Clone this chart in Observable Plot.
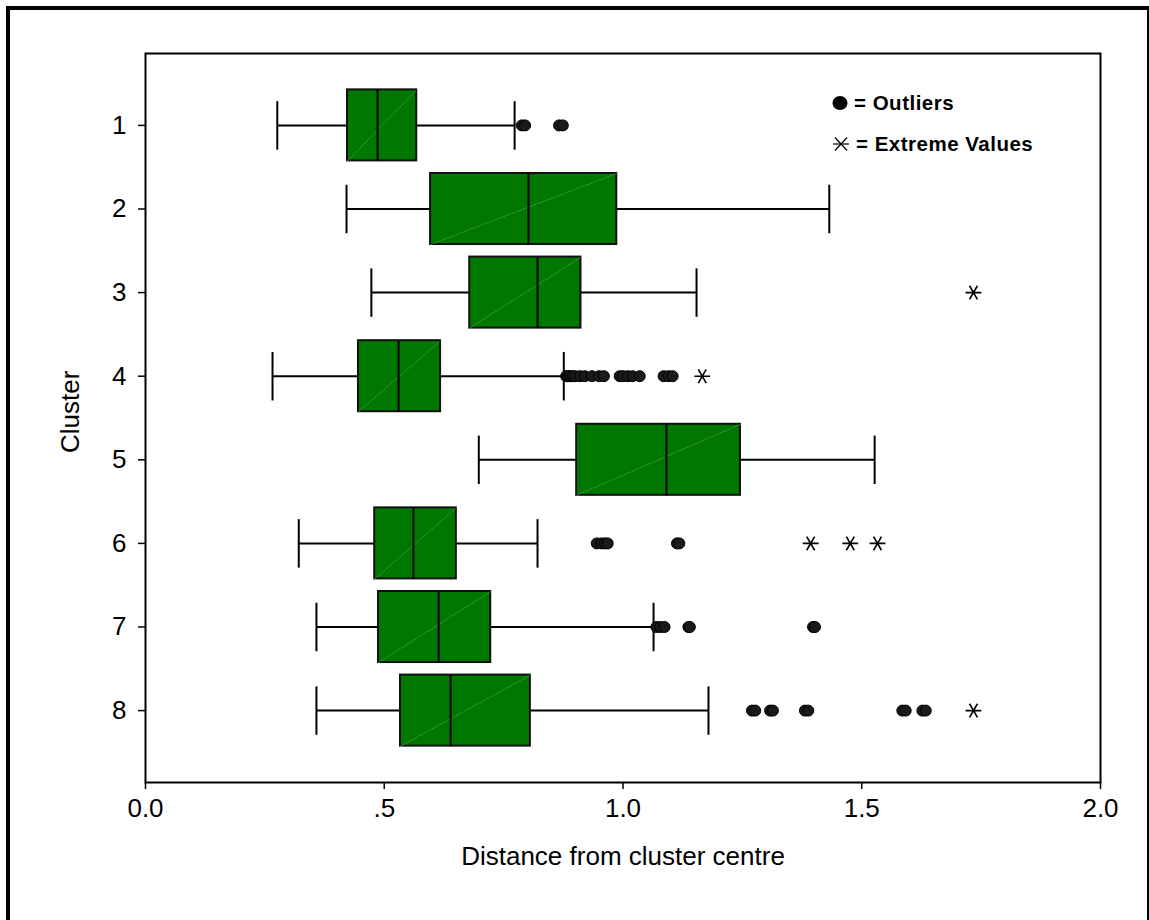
<!DOCTYPE html>
<html>
<head>
<meta charset="utf-8">
<script src="https://cdn.jsdelivr.net/npm/d3@7"></script>
<script src="https://cdn.jsdelivr.net/npm/@observablehq/plot@0.6"></script>
<style>
  html, body { margin: 0; padding: 0; background: #fff; }
  #wrap { position: relative; width: 1149px; height: 920px; overflow: hidden; font-family: "Liberation Sans", Arial, sans-serif; }
  #outer { position: absolute; left: 6px; top: 6px; width: 1137px; height: 960px; border-left: 4px solid #000; border-top: 4px solid #000; border-right: 2px solid #000; box-sizing: content-box; pointer-events: none; }
  #legend { position: absolute; left: 832px; top: 91px; font-weight: bold; font-size: 20.5px; color: #000; letter-spacing: 0.5px; }
  #legend .row { position: absolute; left: 0; white-space: nowrap; display: flex; align-items: center; }
  #legend svg { display: block; margin-right: 6px; }
</style>
</head>
<body>
<div id="wrap">
  <div id="chart"></div>
  <div id="outer"></div>
  <div id="legend"></div>
</div>
<script>
// ---- data ----
const clusters    = [1, 2, 3, 4, 5, 6, 7, 8];
const whiskerLow  = [0.276, 0.421, 0.473, 0.266, 0.698, 0.321, 0.358, 0.358];
const q1          = [0.423, 0.597, 0.679, 0.446, 0.903, 0.480, 0.488, 0.534];
const median      = [0.486, 0.802, 0.821, 0.530, 1.091, 0.561, 0.614, 0.639];
const q3          = [0.568, 0.987, 0.912, 0.618, 1.246, 0.651, 0.723, 0.806];
const whiskerHigh = [0.773, 1.432, 1.154, 0.876, 1.527, 0.821, 1.064, 1.179];

const outlierValues = [
  [0.788, 0.795, 0.866, 0.874],
  [],
  [],
  [0.881, 0.884, 0.887, 0.890, 0.895, 0.900, 0.910, 0.920, 0.935, 0.950, 0.960,
   0.993, 1.000, 1.010, 1.020, 1.035, 1.085, 1.095, 1.104],
  [],
  [0.945, 0.955, 0.962, 0.968, 1.113, 1.118],
  [1.070, 1.078, 1.087, 1.137, 1.140, 1.398, 1.402],
  [1.270, 1.277, 1.308, 1.314, 1.381, 1.388, 1.585, 1.592, 1.627, 1.634]
];
const extremeValues = [
  [], [], [1.734], [1.166], [], [1.393, 1.476, 1.533], [], [1.734]
];

const xTicks = [0, 0.5, 1, 1.5, 2];
const xTickLabels = ["0.0", ".5", "1.0", "1.5", "2.0"];
const xLabel = "Distance from cluster centre";
const yLabel = "Cluster";
const legendItems = ["= Outliers", "= Extreme Values"];

// ---- build tables ----
const boxes = clusters.map((c, i) => ({
  cluster: c, lo: whiskerLow[i], q1: q1[i], med: median[i], q3: q3[i], hi: whiskerHigh[i]
}));
const outliers = clusters.flatMap((c, i) => outlierValues[i].map(v => ({cluster: c, value: v})));
const extremes = clusters.flatMap((c, i) => extremeValues[i].map(v => ({cluster: c, value: v})));

const BOX = 0.425;   // half box height (in band units)
const CAP = 0.29;    // half whisker cap height
const GREEN = "#007800";

const chart = Plot.plot({
  width: 1149,
  height: 920,
  marginLeft: 145,
  marginRight: 49,
  marginTop: 53,
  marginBottom: 138,
  style: { fontFamily: "'Liberation Sans', Arial, sans-serif", fontSize: "26px", background: "transparent", color: "#000" },
  x: { domain: [0, 2] },
  y: { domain: [0.14, 8.86], reverse: true },
  marks: [
    // whisker lines
    Plot.link(boxes, { x1: "lo", x2: "q1", y1: "cluster", y2: "cluster", stroke: "#000", strokeWidth: 2 }),
    Plot.link(boxes, { x1: "q3", x2: "hi", y1: "cluster", y2: "cluster", stroke: "#000", strokeWidth: 2 }),
    // caps
    Plot.link(boxes, { x1: "lo", x2: "lo", y1: d => d.cluster - CAP, y2: d => d.cluster + CAP, stroke: "#000", strokeWidth: 2 }),
    Plot.link(boxes, { x1: "hi", x2: "hi", y1: d => d.cluster - CAP, y2: d => d.cluster + CAP, stroke: "#000", strokeWidth: 2 }),
    // boxes
    Plot.rect(boxes, { x1: "q1", x2: "q3", y1: d => d.cluster - BOX, y2: d => d.cluster + BOX, fill: GREEN, stroke: "#111", strokeWidth: 2 }),
    // faint diagonal artefact
    Plot.link(boxes, { x1: "q1", x2: "q3", y1: d => d.cluster + BOX, y2: d => d.cluster - BOX, stroke: "#4f9a4f", strokeWidth: 1, strokeDasharray: "2,1" }),
    // median
    Plot.link(boxes, { x1: "med", x2: "med", y1: d => d.cluster - BOX, y2: d => d.cluster + BOX, stroke: "#000", strokeWidth: 2 }),
    // outliers
    Plot.dot(outliers, { x: "value", y: "cluster", r: 5.5, fill: "#1a1a1a", stroke: "#000", strokeWidth: 1 }),
    // extremes
    Plot.dot(extremes, { x: "value", y: "cluster", symbol: "asterisk", r: 7.5, stroke: "#000", strokeWidth: 1.6, rotate: 90 }),
    // frame
    Plot.frame({ stroke: "#000", strokeWidth: 2 }),
    // axes
    Plot.axisX({ ticks: xTicks, tickFormat: d => xTickLabels[xTicks.indexOf(d)], tickSize: 7, tickPadding: 9, label: null, strokeWidth: 1.5 }),
    Plot.axisY({ ticks: clusters, tickFormat: d => String(d), tickSize: 7, tickPadding: 12, label: null, strokeWidth: 1.5 }),
    // axis titles
    Plot.text([xLabel], { text: d => d, frameAnchor: "bottom", dy: 82, fontSize: 26 }),
    Plot.text([yLabel], { text: d => d, frameAnchor: "left", rotate: -90, dx: -75, dy: 35, fontSize: 26 })
  ]
});
document.getElementById("chart").appendChild(chart);

// legend
const legend = document.getElementById("legend");
const symbols = [
  '<svg width="16" height="16" viewBox="-8 -8 16 16"><ellipse cx="0" cy="0" rx="7.5" ry="7" fill="#000"/></svg>',
  '<svg width="18" height="18" viewBox="-9 -9 18 18"><g stroke="#000" stroke-width="1.2"><line x1="-8" y1="0" x2="8" y2="0"/><line x1="-6" y1="-6.5" x2="6" y2="6.5"/><line x1="-6" y1="6.5" x2="6" y2="-6.5"/></g></svg>'
];
legendItems.forEach((t, i) => {
  const row = document.createElement("div");
  row.className = "row";
  row.style.top = (i * 41) + "px";
  row.innerHTML = symbols[i] + "<span>" + t + "</span>";
  legend.appendChild(row);
});
</script>
</body>
</html>
